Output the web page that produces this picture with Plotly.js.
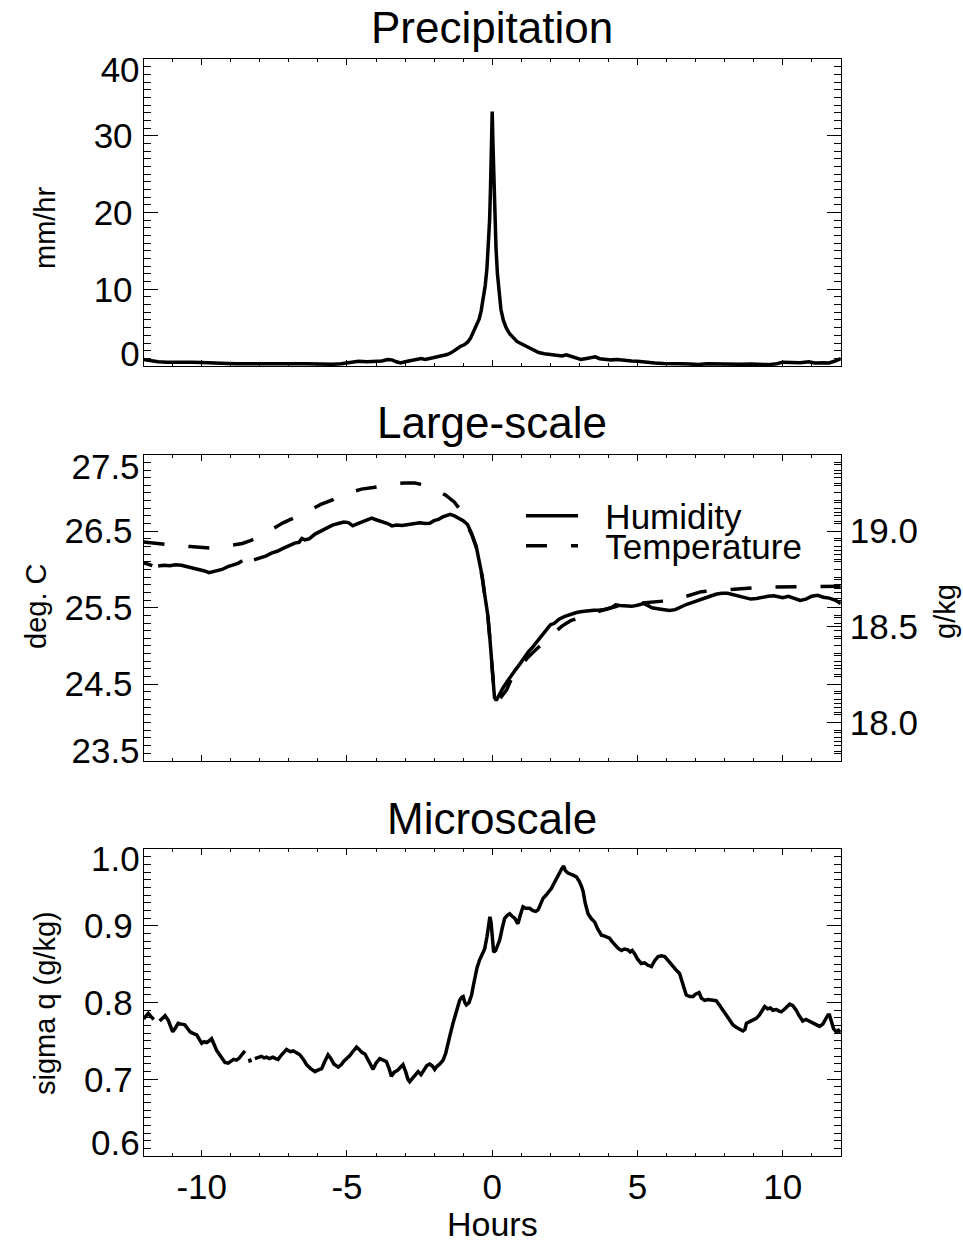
<!DOCTYPE html>
<html>
<head>
<meta charset="utf-8">
<script src="https://cdn.plot.ly/plotly-3.0.1.min.js"></script>
<style>
html, body { margin: 0; padding: 0; background: #ffffff; }
#chart { width: 963px; height: 1242px; }
</style>
</head>
<body>
<div id="chart"></div>
<script>
// ---- Precipitation composite (mm/hr) ----
const precipHours = [
  -12.0, -11.8, -11.5, -11.2, -10.9, -10.6, -10.3, -10.0, -9.7, -9.4, -9.1, -8.8, -8.5, -8.2,
  -7.9, -7.6, -7.3, -7.0, -6.7, -6.4, -6.1, -5.8, -5.5, -5.2, -4.9, -4.6, -4.3, -4.0, -3.8,
  -3.6, -3.45, -3.3, -3.15, -3.0, -2.8, -2.6, -2.45, -2.3, -2.1, -1.9, -1.7, -1.55, -1.4,
  -1.25, -1.1, -0.95, -0.85, -0.75, -0.65, -0.55, -0.45, -0.38, -0.30, -0.24, -0.18, -0.13,
  -0.09, -0.06, -0.03, 0.0, 0.03, 0.06, 0.09, 0.13, 0.18, 0.24, 0.30, 0.38, 0.48, 0.6, 0.72,
  0.85, 1.0, 1.15, 1.3, 1.45, 1.6, 1.8, 2.0, 2.2, 2.4, 2.55, 2.7, 2.9, 3.05, 3.2, 3.4, 3.55,
  3.7, 3.9, 4.1, 4.3, 4.5, 4.8, 5.0, 5.3, 5.6, 5.9, 6.2, 6.5, 6.8, 7.1, 7.4, 7.7, 8.0, 8.3,
  8.6, 8.9, 9.2, 9.5, 9.8, 10.0, 10.3, 10.6, 10.9, 11.1, 11.4, 11.6, 11.8, 12.0
];
const precipRate = [
  0.85, 0.70, 0.55, 0.50, 0.52, 0.48, 0.50, 0.45, 0.38, 0.35, 0.33, 0.30, 0.33, 0.30,
  0.28, 0.30, 0.27, 0.30, 0.28, 0.30, 0.26, 0.24, 0.22, 0.28, 0.50, 0.62, 0.55, 0.60, 0.65,
  0.85, 0.80, 0.55, 0.40, 0.55, 0.70, 0.95, 0.98, 0.85, 1.00, 1.20, 1.40, 1.50, 1.75,
  2.15, 2.55, 2.80, 3.10, 3.60, 4.40, 5.10, 6.10, 7.20, 8.80, 10.5, 12.8, 15.8,
  19.0, 23.0, 28.0, 33.2, 28.5, 23.5, 19.5, 15.5, 12.0, 9.3, 7.4, 6.0, 5.0, 4.2, 3.7,
  3.2, 2.9, 2.6, 2.3, 2.0, 1.75, 1.6, 1.50, 1.35, 1.30, 1.45, 1.25, 1.00, 0.85, 0.95, 1.05, 1.20,
  0.95, 0.85, 0.80, 0.85, 0.75, 0.65, 0.62, 0.45, 0.38, 0.33, 0.35, 0.30, 0.25, 0.20, 0.28, 0.25, 0.30, 0.28,
  0.22, 0.25, 0.22, 0.18, 0.30, 0.50, 0.45, 0.42, 0.55, 0.40, 0.42, 0.40, 0.65, 0.95
];

// ---- Large-scale humidity (g/kg), right axis; null marks missing samples ----
const humidHours = [
  -12.0, -11.85, -11.7, -11.6, -11.5, -11.3, -11.1, -10.9, -10.7, -10.5, -10.3, -10.1, -9.9,
  -9.75, -9.6, -9.45, -9.3, -9.1, -8.9, -8.75, -8.6, -8.5, -8.4, -8.3, -8.2, -8.0, -7.8, -7.6,
  -7.4, -7.2, -7.0, -6.8, -6.65, -6.55, -6.45, -6.3, -6.1, -5.9, -5.7, -5.5, -5.3, -5.1, -4.95,
  -4.8, -4.65, -4.45, -4.25, -4.15, -4.0, -3.8, -3.6, -3.45, -3.3, -3.1, -2.9, -2.7, -2.5, -2.3,
  -2.15, -2.0, -1.85, -1.7, -1.55, -1.45, -1.3, -1.15, -1.0, -0.85, -0.7, -0.55, -0.45, -0.35,
  -0.25, -0.15, -0.08, -0.03, 0.02, 0.08, 0.14, 0.22, 0.35, 0.5, 0.65, 0.8, 0.95, 1.1, 1.25,
  1.4, 1.55, 1.7, 1.85, 2.0, 2.15, 2.3, 2.5, 2.7, 2.9, 3.1, 3.3, 3.5, 3.7, 3.9, 4.1, 4.25, 4.4,
  4.6, 4.8, 5.0, 5.2, 5.35, 5.5, 5.7, 5.9, 6.1, 6.3, 6.5, 6.7, 6.9, 7.1, 7.3, 7.5, 7.7, 7.9,
  8.1, 8.3, 8.5, 8.7, 8.9, 9.1, 9.3, 9.5, 9.7, 9.85, 10.0, 10.2, 10.4, 10.6, 10.8, 11.0, 11.2,
  11.4, 11.6, 11.8, 12.0
];
const humidity = [
  18.835, 18.825, 18.820, null, 18.818, 18.822, 18.820, 18.824, 18.822, 18.815, 18.808, 18.800, 18.792,
  18.783, 18.790, 18.795, 18.800, 18.815, 18.823, 18.832, 18.845, null, 18.848, null, 18.850, 18.858, 18.870, 18.885,
  18.895, 18.910, 18.925, 18.938, 18.942, 18.962, 18.955, 18.960, 18.985, 19.000, 19.018, 19.032, 19.040, 19.048, 19.045,
  19.028, 19.038, 19.050, 19.060, 19.068, 19.060, 19.052, 19.040, 19.028, 19.032, 19.030, 19.034, 19.040, 19.044, 19.040,
  19.041, 19.055, 19.062, 19.075, 19.085, 19.088, 19.080, 19.068, 19.055, 19.035, 18.985, 18.920, 18.850, 18.770,
  18.660, 18.560, 18.440, 18.330, 18.200, 18.130, 18.115, 18.140, 18.175, 18.210, 18.245, 18.275, 18.305, 18.340, 18.370,
  18.395, 18.425, 18.455, 18.485, 18.510, 18.520, 18.540, 18.555, 18.565, 18.575, 18.580, 18.585, 18.587, 18.588, 18.590, 18.600, 18.615, 18.612,
  18.610, 18.607, 18.613, 18.622, 18.612, 18.600, 18.595, 18.590, 18.585, 18.590, 18.605, 18.618, 18.628, 18.640, 18.650, 18.660, 18.670, 18.676,
  18.675, 18.668, 18.660, 18.652, 18.645, 18.648, 18.655, 18.660, 18.662, 18.655, 18.652, 18.660, 18.648, 18.638, 18.645, 18.660, 18.665,
  18.655, 18.650, 18.640, 18.622
];

// ---- Large-scale temperature (deg C), left axis ----
const tempHours = [
  -12.0, -11.6, -11.2, -10.8, -10.4, -10.0, -9.7, -9.4, -9.0, -8.6, -8.3, -8.0, -7.6, -7.2,
  -6.9, -6.5, -6.2, -5.9, -5.5, -5.2, -4.8, -4.5, -4.1, -3.7, -3.35, -3.0, -2.66, -2.3, -1.92,
  -1.6, -1.3, -1.1, -0.95, -0.85, -0.7, -0.55, -0.45, -0.35, -0.25, -0.15, -0.08, -0.03, 0.02,
  0.08, 0.15, 0.3, 0.5, 0.72, 0.95, 1.2, 1.5, 1.8, 2.1, 2.4, 2.7, 3.0, 3.3, 3.6, 3.9, 4.2, 4.5,
  4.8, 5.1, 5.4, 5.7, 6.0, 6.3, 6.6, 6.9, 7.2, 7.5, 7.8, 8.1, 8.4, 8.7, 9.0, 9.4, 9.8, 10.2,
  10.6, 11.0, 11.4, 11.8, 12.0
];
const temperature = [
  26.36, 26.34, 26.32, 26.31, 26.30, 26.29, 26.28, 26.29, 26.31, 26.34, 26.38, 26.43, 26.52, 26.61,
  26.66, 26.73, 26.79, 26.85, 26.91, 26.97, 27.02, 27.05, 27.07, 27.10, 27.12, 27.13, 27.13, 27.10, 27.04,
  26.97, 26.88, 26.78, 26.66, 26.58, 26.45, 26.29, 26.11, 25.91, 25.64, 25.39, 25.09, 24.81, 24.49,
  24.32, 24.28, 24.33, 24.43, 24.62, 24.72, 24.84, 24.95, 25.06, 25.16, 25.26, 25.33, 25.37, 25.41, 25.44, 25.48, 25.51, 25.54,
  25.55, 25.56, 25.56, 25.57, 25.58, 25.60, 25.64, 25.68, 25.71, 25.72, 25.73, 25.74, 25.75, 25.76, 25.76, 25.77, 25.77, 25.77,
  25.78, 25.77, 25.78, 25.78, 25.78
];

// ---- Microscale humidity variability, sigma q (g/kg) ----
const sigmaHours = [
  -12.0, -11.9, -11.84, -11.75, -11.65, -11.55, -11.45, -11.35, -11.26, -11.15, -11.05, -11.0, -10.92,
  -10.81, -10.7, -10.58, -10.48, -10.4, -10.3, -10.17, -10.08, -10.0, -9.92, -9.83, -9.75, -9.66,
  -9.58, -9.49, -9.4, -9.3, -9.2, -9.09, -9.0, -8.9, -8.8, -8.7, -8.6, -8.51, -8.45, -8.36, -8.32,
  -8.26, -8.17, -8.05, -7.95, -7.85, -7.77, -7.67, -7.55, -7.45, -7.37, -7.25, -7.15, -7.08, -6.95,
  -6.85, -6.75, -6.62, -6.5, -6.39, -6.25, -6.1, -6.0, -5.87, -5.78, -5.7, -5.65, -5.55, -5.45, -5.3,
  -5.2, -5.1, -5.01, -4.9, -4.8, -4.67, -4.58, -4.48, -4.38, -4.28, -4.18, -4.1, -4.0, -3.87, -3.75,
  -3.64, -3.55, -3.47, -3.38, -3.25, -3.15, -3.07, -2.98, -2.9, -2.84, -2.75, -2.65, -2.55, -2.45,
  -2.35, -2.25, -2.15, -2.05, -1.98, -1.9, -1.8, -1.69, -1.6, -1.52, -1.45, -1.35, -1.25, -1.12,
  -1.05, -1.0, -0.94, -0.89, -0.8, -0.71, -0.65, -0.6, -0.52, -0.43, -0.35, -0.26, -0.18, -0.12,
  -0.08, -0.04, 0.0, 0.05, 0.12, 0.2, 0.26, 0.35, 0.43, 0.52, 0.6, 0.68, 0.78, 0.85, 0.89, 0.95,
  1.06, 1.15, 1.29, 1.4, 1.5, 1.58, 1.68, 1.75, 1.85, 1.95, 2.04, 2.12, 2.21, 2.3, 2.4, 2.46, 2.52,
  2.61, 2.7, 2.8, 2.9, 3.0, 3.08, 3.13, 3.2, 3.3, 3.4, 3.53, 3.62, 3.7, 3.76, 3.85, 3.95, 4.04,
  4.12, 4.2, 4.33, 4.45, 4.55, 4.67, 4.75, 4.82, 4.9, 5.0, 5.13, 5.25, 5.35, 5.48, 5.6, 5.71, 5.82,
  5.94, 6.05, 6.15, 6.22, 6.32, 6.45, 6.55, 6.68, 6.8, 6.91, 7.0, 7.12, 7.2, 7.31, 7.42, 7.55, 7.71,
  7.82, 7.95, 8.06, 8.18, 8.29, 8.4, 8.5, 8.63, 8.7, 8.75, 8.85, 9.0, 9.09, 9.2, 9.3, 9.38, 9.48,
  9.58, 9.66, 9.78, 9.88, 9.95, 10.05, 10.15, 10.24, 10.35, 10.47, 10.55, 10.62, 10.69, 10.8, 10.9,
  10.98, 11.08, 11.18, 11.27, 11.38, 11.5, 11.56, 11.61, 11.68, 11.75, 11.84, 11.92, 12.0
];
const sigmaQ = [
  0.779, 0.784, 0.786, 0.782, 0.778, null, 0.776, 0.780, 0.783, 0.777, 0.768, 0.762, 0.766,
  0.773, 0.772, 0.771, 0.766, 0.762, 0.760, 0.758, 0.752, 0.747, 0.749, 0.748, 0.750, 0.753,
  0.746, 0.738, 0.733, 0.727, 0.722, 0.721, 0.723, 0.726, 0.725, 0.728, 0.733, 0.737, null, 0.727, 0.722,
  null, 0.727, 0.729, 0.730, 0.728, 0.729, 0.727, 0.729, 0.727, 0.726, 0.732, 0.737, 0.739, 0.736,
  0.737, 0.735, 0.732, 0.726, 0.719, 0.714, 0.710, 0.712, 0.714, 0.722, 0.729, 0.732, 0.727, 0.720, 0.716,
  0.719, 0.724, 0.727, 0.731, 0.736, 0.742, 0.739, 0.735, 0.733, 0.726, 0.718, 0.713, 0.721, 0.727, 0.725,
  0.723, 0.714, 0.704, 0.709, 0.712, 0.716, 0.719, 0.710, 0.700, 0.697, 0.701, 0.706, 0.710, 0.706,
  0.713, 0.718, 0.720, 0.717, 0.713, 0.717, 0.720, 0.725, 0.734, 0.745, 0.758, 0.773, 0.786, 0.803,
  0.807, 0.808, 0.800, 0.797, 0.800, 0.810, 0.822, 0.834, 0.846, 0.856, 0.864, 0.870, 0.886, 0.902,
  0.912, 0.905, 0.882, 0.866, 0.868, 0.876, 0.882, 0.898, 0.910, 0.914, 0.916, 0.913, 0.910, 0.905, 0.903, 0.912,
  0.925, 0.923, 0.923, 0.920, 0.919, 0.921, 0.930, 0.936, 0.940, 0.945, 0.949, 0.955, 0.962, 0.968, 0.975, 0.978, 0.972,
  0.969, 0.967, 0.966, 0.964, 0.958, 0.951, 0.945, 0.930, 0.916, 0.910, 0.905, 0.897, 0.891, 0.888, 0.887, 0.885, 0.884,
  0.880, 0.876, 0.871, 0.868, 0.870, 0.869, 0.866, 0.868, 0.864, 0.857, 0.851, 0.852, 0.849, 0.847, 0.855, 0.860, 0.861,
  0.860, 0.855, 0.849, 0.847, 0.843, 0.838, 0.826, 0.810, 0.808, 0.808, 0.811, 0.813, 0.806, 0.803, 0.804, 0.803, 0.8025,
  0.797, 0.790, 0.784, 0.777, 0.771, 0.768, 0.766, 0.763, 0.765, 0.773, 0.775, 0.778, 0.7795, 0.784, 0.790, 0.795, 0.792,
  0.793, 0.790, 0.791, 0.789, 0.788, 0.791, 0.795, 0.798, 0.796, 0.790, 0.784, 0.779, 0.776, 0.778, 0.776,
  0.775, 0.773, 0.771, 0.769, 0.772, 0.779, 0.784, 0.784, 0.776, 0.766, 0.762, 0.764, 0.761
];

// ---- Axis ranges and tick labels ----
const hourRange = [-12, 12];
const hourTicks = [-10, -5, 0, 5, 10];
const precipRange = [0, 40];
const precipTicks = [0, 10, 20, 30, 40];
const tempRange = [23.5, 27.5];
const tempTicks = [23.5, 24.5, 25.5, 26.5, 27.5];
const humidRange = [17.8, 19.4];
const humidTicks = [18.0, 18.5, 19.0];
const sigmaRange = [0.6, 1.0];
const sigmaTicks = [0.6, 0.7, 0.8, 0.9, 1.0];

// ---- Page geometry (pixels) ----
const W = 963, H = 1242;
const FONT = 'Liberation Sans, Arial, Helvetica, sans-serif';
const plotLeft = 143.6, plotRight = 840.8;
const panelTop = [59.3, 454.7, 849.3];
const panelBottom = [366.0, 760.7, 1156.0];
const xDomain = [plotLeft / W, plotRight / W];
const yDomain = i => [1 - panelBottom[i] / H, 1 - panelTop[i] / H];
const px = v => v / W;
const py = v => 1 - v / H;

const tickFont = { family: FONT, size: 35, color: '#000' };
const lineStyle = { color: '#000', width: 3.5 };

function xAxis(anchor, labels) {
  return {
    domain: xDomain, anchor: anchor, range: hourRange, autorange: false,
    tickmode: 'array', tickvals: hourTicks, ticktext: hourTicks.map(String),
    showticklabels: labels, tickfont: tickFont, ticklabelstandoff: 0,
    ticks: 'inside', ticklen: 6, tickwidth: 1, tickcolor: '#000',
    minor: { ticks: 'inside', dtick: 1, tick0: 0, ticklen: 3, tickwidth: 1, tickcolor: '#000' },
    showline: true, linecolor: '#000', linewidth: 1, mirror: 'ticks',
    showgrid: false, zeroline: false, fixedrange: true
  };
}

function yAxis(anchor, i, range, ticks, minorStep, digits) {
  return {
    domain: yDomain(i), anchor: anchor, range: range, autorange: false,
    tickmode: 'array', tickvals: ticks,
    // the end labels are drawn by their own overlay axes below
    ticktext: ticks.map((t, k) => (k === 0 || k === ticks.length - 1) ? '' : t.toFixed(digits)),
    tickfont: tickFont, ticklabelstandoff: 3,
    ticks: 'inside', ticklen: 14, tickwidth: 1, tickcolor: '#000',
    minor: { ticks: 'inside', dtick: minorStep, tick0: range[0], ticklen: 7, tickwidth: 1, tickcolor: '#000' },
    showline: true, linecolor: '#000', linewidth: 1, mirror: 'ticks',
    showgrid: false, zeroline: false, fixedrange: true
  };
}

// end-of-axis labels sit slightly inside the frame, so they get their own overlay axis
function endLabelAxis(anchor, base, range, value, digits, shift) {
  return {
    overlaying: base, anchor: anchor, side: 'left', range: range, autorange: false,
    tickmode: 'array', tickvals: [value], ticktext: [value.toFixed(digits)],
    tickfont: tickFont, ticklabelstandoff: 3, ticklabelshift: shift,
    ticks: '', showline: false, showgrid: false, zeroline: false, fixedrange: true
  };
}

const traces = [
  { type: 'scatter', mode: 'lines', x: precipHours, y: precipRate, xaxis: 'x', yaxis: 'y',
    line: lineStyle, showlegend: false, hoverinfo: 'skip' },
  { type: 'scatter', mode: 'lines', x: tempHours, y: temperature, xaxis: 'x2', yaxis: 'y2',
    name: '\u00a0\u00a0\u200aTemperature', legend: 'legend2',
    line: { color: '#000', width: 3.5, dash: '21px,24px' }, hoverinfo: 'skip' },
  { type: 'scatter', mode: 'lines', x: humidHours, y: humidity, xaxis: 'x2', yaxis: 'y3',
    name: '\u00a0\u00a0\u200aHumidity', legend: 'legend',
    line: lineStyle, connectgaps: false, hoverinfo: 'skip' },
  { type: 'scatter', mode: 'lines', x: sigmaHours, y: sigmaQ, xaxis: 'x3', yaxis: 'y4',
    line: lineStyle, connectgaps: false, showlegend: false, hoverinfo: 'skip' }
];
// empty traces that register the end-label overlay axes
[['x', 'y5'], ['x', 'y6'], ['x2', 'y7'], ['x2', 'y8'], ['x3', 'y9'], ['x3', 'y10']].forEach(p => {
  traces.push({ type: 'scatter', mode: 'lines', x: [], y: [], xaxis: p[0], yaxis: p[1],
    showlegend: false, hoverinfo: 'skip' });
});

const panelTitles = ['Precipitation', 'Large-scale', 'Microscale'];
const titleY = [28, 423, 818];
const annotations = panelTitles.map((t, i) => ({
  text: t, xref: 'paper', yref: 'paper', x: px((plotLeft + plotRight) / 2), y: py(titleY[i]),
  xanchor: 'center', yanchor: 'middle', showarrow: false,
  font: { family: FONT, size: 44, color: '#000' }
}));

[
  { text: 'mm/hr', x: 45, y: 228, angle: -90, size: 29 },
  { text: 'deg. C', x: 36, y: 607, angle: -90, size: 29 },
  { text: 'g/kg', x: 945, y: 612, angle: -90, size: 29 },
  { text: 'sigma q (g/kg)', x: 45, y: 1003, angle: -90, size: 29 },
  { text: 'Hours', x: (plotLeft + plotRight) / 2, y: 1224, angle: 0, size: 34 }
].forEach(a => annotations.push({
  text: a.text, xref: 'paper', yref: 'paper', x: px(a.x), y: py(a.y),
  xanchor: 'center', yanchor: 'middle', textangle: a.angle, showarrow: false,
  font: { family: FONT, size: a.size, color: '#000' }
}));

const legendBase = {
  xanchor: 'left', yanchor: 'middle', bgcolor: 'rgba(0,0,0,0)', borderwidth: 0,
  font: { family: FONT, size: 35, color: '#000' }, itemwidth: 52, itemclick: false, itemdoubleclick: false
};

const layout = {
  width: W, height: H,
  margin: { l: 0, r: 0, t: 0, b: 0 },
  paper_bgcolor: '#fff', plot_bgcolor: '#fff',
  font: { family: FONT, color: '#000' },
  showlegend: true,
  legend: Object.assign({}, legendBase, { x: px(521), y: py(516) }),
  legend2: Object.assign({}, legendBase, { x: px(521), y: py(546) }),
  xaxis: xAxis('y', false),
  xaxis2: xAxis('y2', false),
  xaxis3: xAxis('y4', true),
  yaxis: yAxis('x', 0, precipRange, precipTicks, 1, 0),
  yaxis2: yAxis('x2', 1, tempRange, tempTicks, 0.1, 1),
  yaxis3: {
    overlaying: 'y2', anchor: 'x2', side: 'right', range: humidRange, autorange: false,
    tickmode: 'array', tickvals: humidTicks, ticktext: humidTicks.map(v => v.toFixed(1)),
    tickfont: tickFont, ticklabelstandoff: 1,
    ticks: 'inside', ticklen: 14, tickwidth: 1, tickcolor: '#000',
    minor: { ticks: 'inside', dtick: 0.05, tick0: 17.8, ticklen: 7, tickwidth: 1, tickcolor: '#000' },
    showline: true, linecolor: '#000', linewidth: 1,
    showgrid: false, zeroline: false, fixedrange: true
  },
  yaxis4: yAxis('x3', 2, sigmaRange, sigmaTicks, 0.01, 1),
  yaxis5: endLabelAxis('x', 'y', precipRange, precipTicks[4], 0, 10),
  yaxis6: endLabelAxis('x', 'y', precipRange, precipTicks[0], 0, -12),
  yaxis7: endLabelAxis('x2', 'y2', tempRange, tempTicks[4], 1, 12),
  yaxis8: endLabelAxis('x2', 'y2', tempRange, tempTicks[0], 1, -10),
  yaxis9: endLabelAxis('x3', 'y4', sigmaRange, sigmaTicks[4], 1, 9),
  yaxis10: endLabelAxis('x3', 'y4', sigmaRange, sigmaTicks[0], 1, -13),
  annotations: annotations
};

Plotly.newPlot('chart', traces, layout, { staticPlot: true, displayModeBar: false });
</script>
</body>
</html>
